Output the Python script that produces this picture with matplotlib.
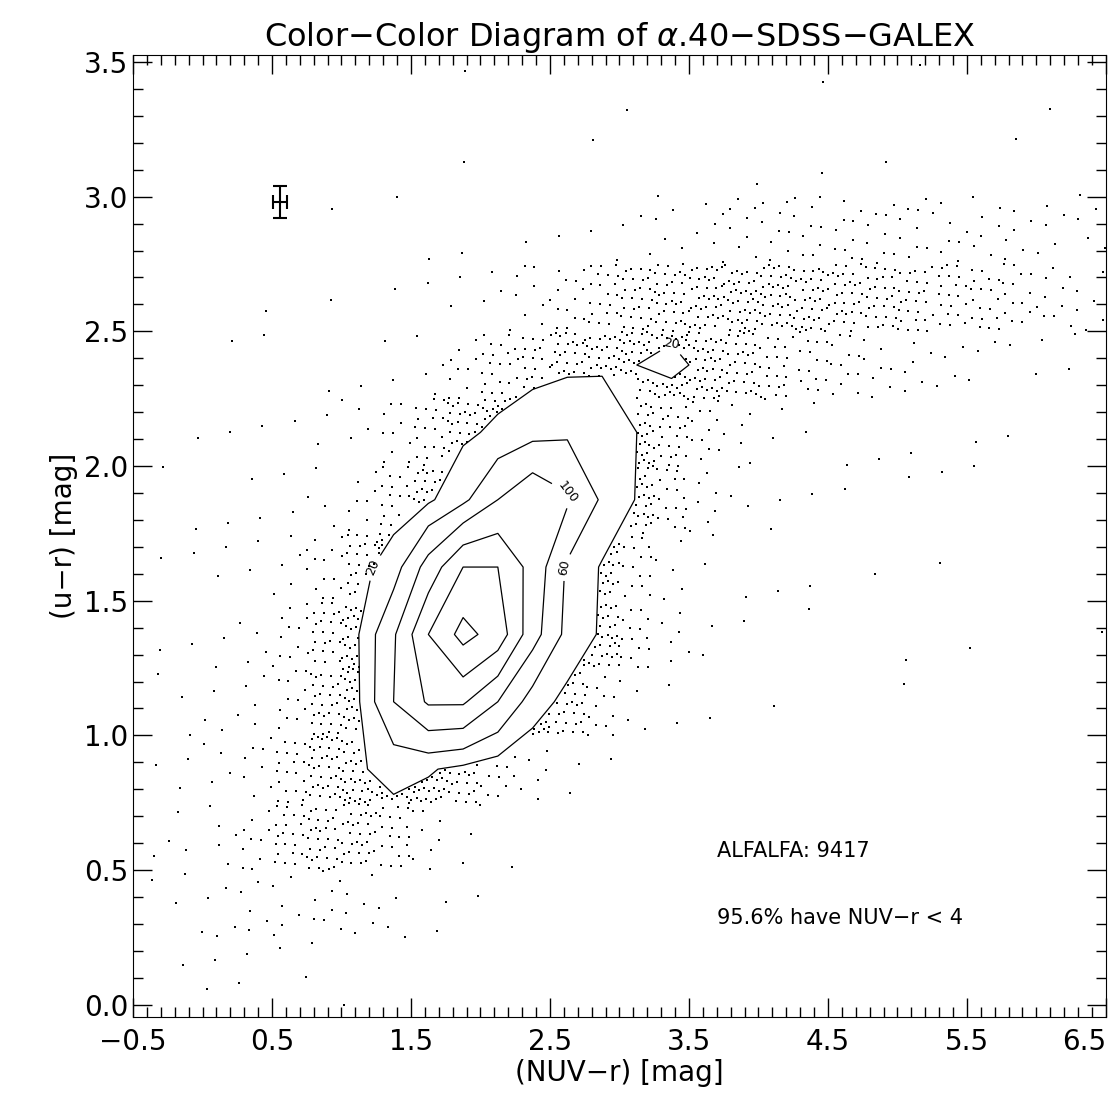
import numpy as np
import matplotlib
matplotlib.use("Agg")
import matplotlib.pyplot as plt
from matplotlib.ticker import MultipleLocator

# approximate counts per 0.25 x 0.25 mag cell
x_edges = np.arange(-0.5, 6.51, 0.25)
y_edges = np.arange(0.0, 3.51, 0.25)
# each row: (y bin index, first x bin index, counts...)
rows = [
    (13, 8, [0, 1, 0, 0, 0, 0, 1, 0, 0, 0, 0, 1, 0, 0, 1, 0, 0, 0, 1]),
    (12, 8, [0, 1, 0, 0, 0, 1, 0, 1, 0, 1, 0, 1, 0, 1, 0, 0, 0, 1, 0, 1]),
    (11, 4, [0, 1, 0, 1, 1, 1, 0, 1, 1, 2, 3, 4, 6, 8, 9, 10, 10, 9, 9, 8, 7, 6, 5, 4]),
    (10, 3, [1, 0, 1, 0, 1, 1, 2, 4, 8, 14, 20, 28, 34, 38, 40, 38, 35, 32, 28, 25, 22, 18, 14, 10, 6]),
    (9, 2, [1, 1, 0, 1, 1, 2, 4, 10, 18, 25, 35, 40, 45, 50, 40, 30, 22, 16, 12, 8, 6, 4, 3, 2, 2, 1]),
    (8, 1, [1, 1, 1, 1, 2, 4, 10, 20, 35, 55, 80, 90, 70, 45, 25, 12, 6, 3, 2, 1, 1, 1, 0, 1, 1]),
    (7, 0, [1, 1, 1, 2, 2, 4, 8, 18, 36, 85, 170, 230, 180, 90, 42, 18, 7, 3, 2, 1, 1, 0, 1, 1, 1]),
    (6, 0, [1, 1, 2, 2, 5, 12, 28, 70, 200, 330, 330, 220, 90, 40, 15, 5, 2, 1, 1, 1, 0, 1, 0, 1]),
    (5, 0, [1, 1, 2, 4, 10, 25, 45, 160, 330, 450, 380, 200, 80, 38, 15, 6, 2, 1, 0, 1, 0, 0, 1, 0, 1, 0, 0, 1]),
    (4, 0, [1, 2, 3, 5, 12, 30, 42, 170, 260, 260, 170, 70, 30, 12, 4, 2, 1, 0, 1, 0, 0, 0, 1]),
    (3, 0, [1, 2, 4, 8, 20, 36, 40, 60, 50, 32, 15, 6, 2, 1]),
    (2, 0, [1, 3, 5, 10, 22, 30, 32, 20, 8, 3, 1]),
    (1, 0, [1, 3, 4, 5, 6, 8, 6, 4, 2, 1]),
    (0, 0, [0, 1, 2, 2, 2, 1, 1]),
]

n_x, n_y = len(x_edges) - 1, len(y_edges) - 1
counts = np.zeros((n_y, n_x))
for iy, ix0, vals in rows:
    vals = vals[:n_x - ix0]
    counts[iy, ix0:ix0 + len(vals)] = vals

xc = 0.5 * (x_edges[:-1] + x_edges[1:])
yc = 0.5 * (y_edges[:-1] + y_edges[1:])
levels = [45, 100, 170, 250, 330, 420]
level_text = {45: "20", 100: "60", 170: "100"}


def density(px, py):
    fx = np.clip((px - xc[0]) / 0.25, 0, n_x - 1.001)
    fy = np.clip((py - yc[0]) / 0.25, 0, n_y - 1.001)
    i, j = fx.astype(int), fy.astype(int)
    tx, ty = fx - i, fy - j
    return (counts[j, i] * (1 - tx) * (1 - ty) + counts[j, i + 1] * tx * (1 - ty)
            + counts[j + 1, i] * (1 - tx) * ty + counts[j + 1, i + 1] * tx * ty)


# spread each cell's count over the cell on a fixed low-discrepancy (R2) pattern
px, py = [], []
g1, g2 = 0.7548776662, 0.5698402910
for iy in range(n_y):
    for ix in range(n_x):
        n = int(min(counts[iy, ix], 90))
        base = 37 * (iy * n_x + ix)
        for k in range(n):
            idx = base + k
            px.append(x_edges[ix] + 0.25 * ((0.5 + idx * g1) % 1))
            py.append(y_edges[iy] + 0.25 * ((0.5 + idx * g2) % 1))
px, py = np.array(px), np.array(py)
keep = density(px, py) < levels[0]

fig = plt.figure(figsize=(11.14, 11.19), dpi=100)
ax = fig.add_axes([0.1194, 0.0912, 0.8733, 0.8597])
ax.scatter(px[keep], py[keep], s=3, c="black", marker="s", linewidths=0)

cs = ax.contour(xc, yc, counts, levels=levels, colors="black", linewidths=0.9)
ax.clabel(cs, levels=levels[:3], fmt=level_text, fontsize=9, inline=True)

ax.errorbar([0.56], [2.98], xerr=[0.05], yerr=[0.06], color="black",
            capsize=5, elinewidth=1.5, capthick=1.5)

ax.text(3.7, 0.55, "ALFALFA: 9417", fontsize=15)
ax.text(3.7, 0.30, "95.6% have NUV\u2212r < 4", fontsize=15)

ax.set_xlim(-0.5, 6.5)
ax.set_ylim(-0.045, 3.526)
ax.set_xticks(np.arange(-0.5, 6.51, 1.0))
ax.xaxis.set_minor_locator(MultipleLocator(0.1))
ax.yaxis.set_major_locator(MultipleLocator(0.5))
ax.yaxis.set_minor_locator(MultipleLocator(0.1))
ax.set_xticklabels(["\u22120.5", "0.5", "1.5", "2.5", "3.5", "4.5", "5.5", "6.5"])
ax.tick_params(which="both", direction="in", top=True, right=True, labelsize=20)
ax.tick_params(which="major", length=14, width=1)
ax.tick_params(which="minor", length=7, width=1)
ax.tick_params(axis="x", pad=8)
ax.set_xlabel("(NUV\u2212r) [mag]", fontsize=20, labelpad=2)
ax.set_ylabel("(u\u2212r) [mag]", fontsize=20)
ax.set_title("Color\u2212Color Diagram of $\\alpha$.40\u2212SDSS\u2212GALEX", fontsize=23, pad=6)
# last tick label sits at the figure edge; nudge it inward
ax.get_xticklabels()[-1].set_horizontalalignment("right")

fig.savefig("out.png", dpi=100)
